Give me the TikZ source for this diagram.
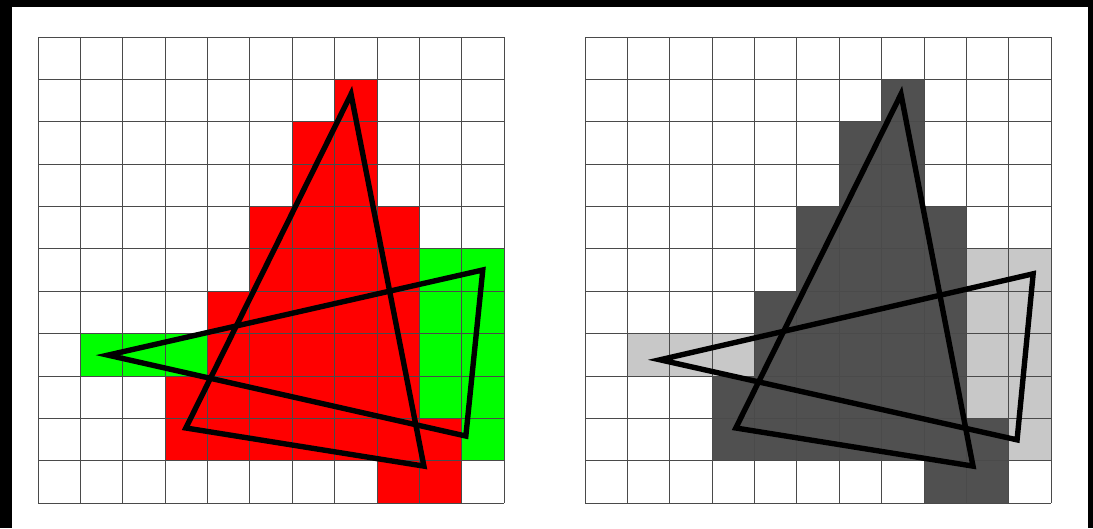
\documentclass[tikz,border=0pt]{standalone}
\usepackage{xcolor}
\usepackage{tikz}
\definecolor{hitred}{HTML}{FF0000}
\definecolor{hitgreen}{HTML}{00FF00}
\definecolor{hitdark}{HTML}{505050}
\definecolor{hitlight}{HTML}{C8C8C8}
\definecolor{gridgray}{HTML}{4A4A4A}
\tikzset{
  cellbox/.style  = {fill=#1},
  gridline/.style = {draw=gridgray, line width=0.55pt},
  tri/.style      = {draw=black, line width=4.6pt, line join=miter},
}
% cells touched by the first triangle / only by the second one (col/row, row 0 at top)
\newcommand{\fullcells}{7/1,6/2,7/2,6/3,7/3,5/4,6/4,7/4,8/4,5/5,6/5,7/5,8/5,
  4/6,5/6,6/6,7/6,8/6,4/7,5/7,6/7,7/7,8/7,3/8,4/8,5/8,6/8,7/8,8/8,
  3/9,4/9,5/9,6/9,7/9,8/9,9/9,8/10,9/10}
\newcommand{\partcells}{9/5,10/5,9/6,10/6,1/7,2/7,3/7,9/7,10/7,9/8,10/8,10/9}

\begin{document}
\begin{tikzpicture}[x=0.03cm, y=-0.03cm]

  %% ---------------- frame ------------------------------------------------------------
  \fill[black] (0,0) rectangle (1093,528);
  \fill[white] (12,7) rectangle (1088,528);

  %% ---------------- left panel: colour ------------------------------------------------
  \begin{scope}[shift={(38,37)}, scale=42.36]
    \foreach \c/\r in \fullcells { \fill[cellbox=hitred] (\c,\r) rectangle ++(1,1); }
    \foreach \c/\r in \partcells { \fill[cellbox=hitgreen] (\c,\r) rectangle ++(1,1); }
    \foreach \k in {0,...,11} { \draw[gridline] (\k,0) -- (\k,11); \draw[gridline] (0,\k) -- (11,\k); }
    \draw[tri] (7.39,1.35) -- (3.49,9.23) -- (9.11,10.13) -- cycle;
    \draw[tri] (1.65,7.51) -- (10.50,5.50) -- (10.10,9.42) -- cycle;
  \end{scope}

  %% ---------------- right panel: grey -------------------------------------------------
  \begin{scope}[shift={(585,37)}, scale=42.36]
    \foreach \c/\r in \fullcells { \fill[cellbox=hitdark] (\c,\r) rectangle ++(1,1); }
    \foreach \c/\r in \partcells { \fill[cellbox=hitlight] (\c,\r) rectangle ++(1,1); }
    \foreach \k in {0,...,11} { \draw[gridline] (\k,0) -- (\k,11); \draw[gridline] (0,\k) -- (11,\k); }
    \draw[tri] (7.46,1.35) -- (3.56,9.23) -- (9.16,10.13) -- cycle;
    \draw[tri] (1.77,7.62) -- (10.58,5.59) -- (10.20,9.51) -- cycle;
  \end{scope}
\end{tikzpicture}
\end{document}
